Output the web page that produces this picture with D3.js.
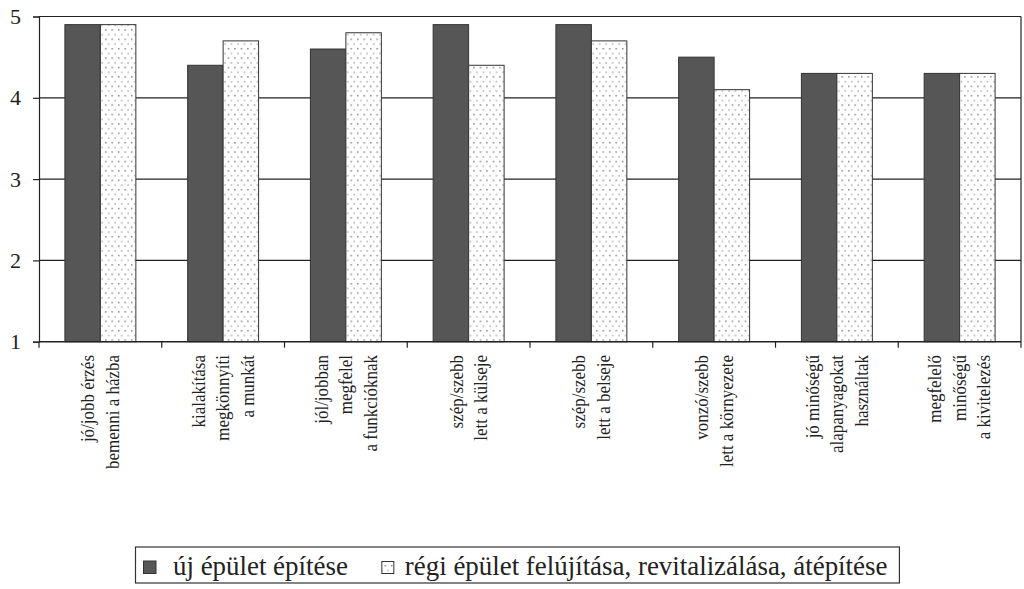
<!DOCTYPE html>
<html>
<head>
<meta charset="utf-8">
<script src="https://cdn.jsdelivr.net/npm/d3@7/dist/d3.min.js"></script>
<style>
  html, body { margin: 0; padding: 0; background: #fff; }
  svg { display: block; }
  text { font-family: "Liberation Serif", "DejaVu Serif", serif; fill: #222; }
</style>
</head>
<body>
<svg id="chart" width="1024" height="589"></svg>
<script>
const categories = [
  ["jó/jobb érzés", "bemenni a házba"],
  ["kialakítása", "megkönnyíti", "a munkát"],
  ["jól/jobban", "megfelel", "a funkcióknak"],
  ["szép/szebb", "lett a külseje"],
  ["szép/szebb", "lett a belseje"],
  ["vonzó/szebb", "lett a környezete"],
  ["jó minőségű", "alapanyagokat", "használtak"],
  ["megfelelő", "minőségű", "a kivitelezés"]
];
const seriesNames = ["új épület építése", "régi épület felújítása, revitalizálása, átépítése"];
const newBuilding = [4.9, 4.4, 4.6, 4.9, 4.9, 4.5, 4.3, 4.3];
const renovation = [4.9, 4.7, 4.8, 4.4, 4.7, 4.1, 4.3, 4.3];
const yTicks = [1, 2, 3, 4, 5];

const svg = d3.select("#chart");
const pLeft = 39, pRight = 1021, pTop = 16.5, pBottom = 341.7;

// font sizing helper: find size so that a sample string matches a target width
function fitSize(sample, target, base) {
  const t = svg.append("text").attr("font-size", base).text(sample);
  const w = t.node().getComputedTextLength();
  t.remove();
  return base * target / w;
}
const labelSize = fitSize("bemenni a házba", 114, 18);
const legendSize = fitSize(seriesNames[1], 483, 22);

const defs = svg.append("defs");
const pat = defs.append("pattern").attr("id", "dots").attr("patternUnits", "userSpaceOnUse")
  .attr("width", 6.5).attr("height", 9.4);
pat.append("rect").attr("width", 6.5).attr("height", 9.4).attr("fill", "#fff");
pat.append("rect").attr("x", 1).attr("y", 1).attr("width", 1.4).attr("height", 1.4).attr("fill", "#777");
pat.append("rect").attr("x", 4.2).attr("y", 5.6).attr("width", 1).attr("height", 1.8).attr("fill", "#999");

const keys = categories.map((c, i) => "c" + i);
const x = d3.scaleBand().domain(keys).range([pLeft, pRight]).paddingInner(0).paddingOuter(0);
const x1 = d3.scaleBand().domain([0, 1]).range([0, x.bandwidth()]).paddingInner(0).paddingOuter(0.73);
const y = d3.scaleLinear().domain([1, 5]).range([pBottom, pTop]);

// gridlines
svg.append("g").selectAll("line").data(yTicks.filter(t => t > 1)).join("line")
  .attr("x1", pLeft).attr("x2", pRight)
  .attr("y1", d => y(d)).attr("y2", d => y(d))
  .attr("stroke", "#222").attr("stroke-width", 1.2);

// plot border right
svg.append("line").attr("x1", pRight).attr("x2", pRight).attr("y1", pTop).attr("y2", pBottom)
  .attr("stroke", "#222").attr("stroke-width", 1.2);

// bars
const data = keys.map((k, i) => ({k, vals: [newBuilding[i], renovation[i]]}));
const g = svg.append("g").selectAll("g").data(data).join("g")
  .attr("transform", d => `translate(${x(d.k)},0)`);
g.selectAll("rect").data(d => d.vals.map((v, j) => ({v, j}))).join("rect")
  .attr("x", d => x1(d.j))
  .attr("width", x1.bandwidth())
  .attr("y", d => y(d.v))
  .attr("height", d => y(1) - y(d.v))
  .attr("fill", d => d.j === 0 ? "#565656" : "url(#dots)")
  .attr("stroke", "#333").attr("stroke-width", 1);

// y axis
const yAxis = svg.append("g").attr("transform", `translate(${pLeft},0)`)
  .call(d3.axisLeft(y).tickValues(yTicks).tickSize(6).tickPadding(12).tickFormat(d3.format("d")));
yAxis.select(".domain").attr("stroke", "#222").attr("stroke-width", 1.2);
yAxis.selectAll(".tick line").attr("stroke", "#222").attr("stroke-width", 1.2);
yAxis.selectAll(".tick text").attr("font-size", 22).attr("font-family", "Liberation Serif").attr("fill", "#333");

// x axis
const xAxis = svg.append("g").attr("transform", `translate(0,${pBottom})`);
xAxis.append("line").attr("x1", pLeft).attr("x2", pRight).attr("stroke", "#222").attr("stroke-width", 1.4);
const bounds = keys.map(k => x(k)).concat([pRight]);
xAxis.selectAll("line.tk").data(bounds).join("line").attr("class", "tk")
  .attr("x1", d => d).attr("x2", d => d).attr("y1", 0).attr("y2", 6)
  .attr("stroke", "#222").attr("stroke-width", 1.2);

// category labels
const lineGap = 24.5;
categories.forEach((lines, i) => {
  const cx = x(keys[i]) + x.bandwidth() / 2;
  const n = lines.length;
  lines.forEach((t, j) => {
    const lx = cx + (j - (n - 1) / 2) * lineGap;
    svg.append("text")
      .attr("transform", `translate(${lx},355) rotate(-90) scale(1,1.12)`)
      .attr("text-anchor", "end")
      .attr("dominant-baseline", "central")
      .attr("font-size", labelSize)
      .text(t);
  });
});

// legend
const leg = svg.append("g");
const box = leg.append("rect").attr("x", 135.5).attr("y", 547).attr("width", 765).attr("height", 36)
  .attr("fill", "#fff").attr("stroke", "#333").attr("stroke-width", 1.2);
leg.append("rect").attr("x", 143.5).attr("y", 561).attr("width", 12.5).attr("height", 12.5)
  .attr("fill", "#565656").attr("stroke", "#333").attr("stroke-width", 1);
const t1 = leg.append("text").attr("x", 173).attr("y", 566).attr("dominant-baseline", "central")
  .attr("font-size", legendSize).text(seriesNames[0]);
const end1 = 173 + t1.node().getComputedTextLength();
const sq2 = end1 + 34;
leg.append("rect").attr("x", sq2).attr("y", 561.5).attr("width", 12).attr("height", 12)
  .attr("fill", "url(#dots)").attr("stroke", "#333").attr("stroke-width", 1);
const t2 = leg.append("text").attr("x", sq2 + 23).attr("y", 566).attr("dominant-baseline", "central")
  .attr("font-size", legendSize).text(seriesNames[1]);
const end2 = sq2 + 23 + t2.node().getComputedTextLength();
box.attr("width", end2 + 12 - 135.5);
</script>
</body>
</html>
